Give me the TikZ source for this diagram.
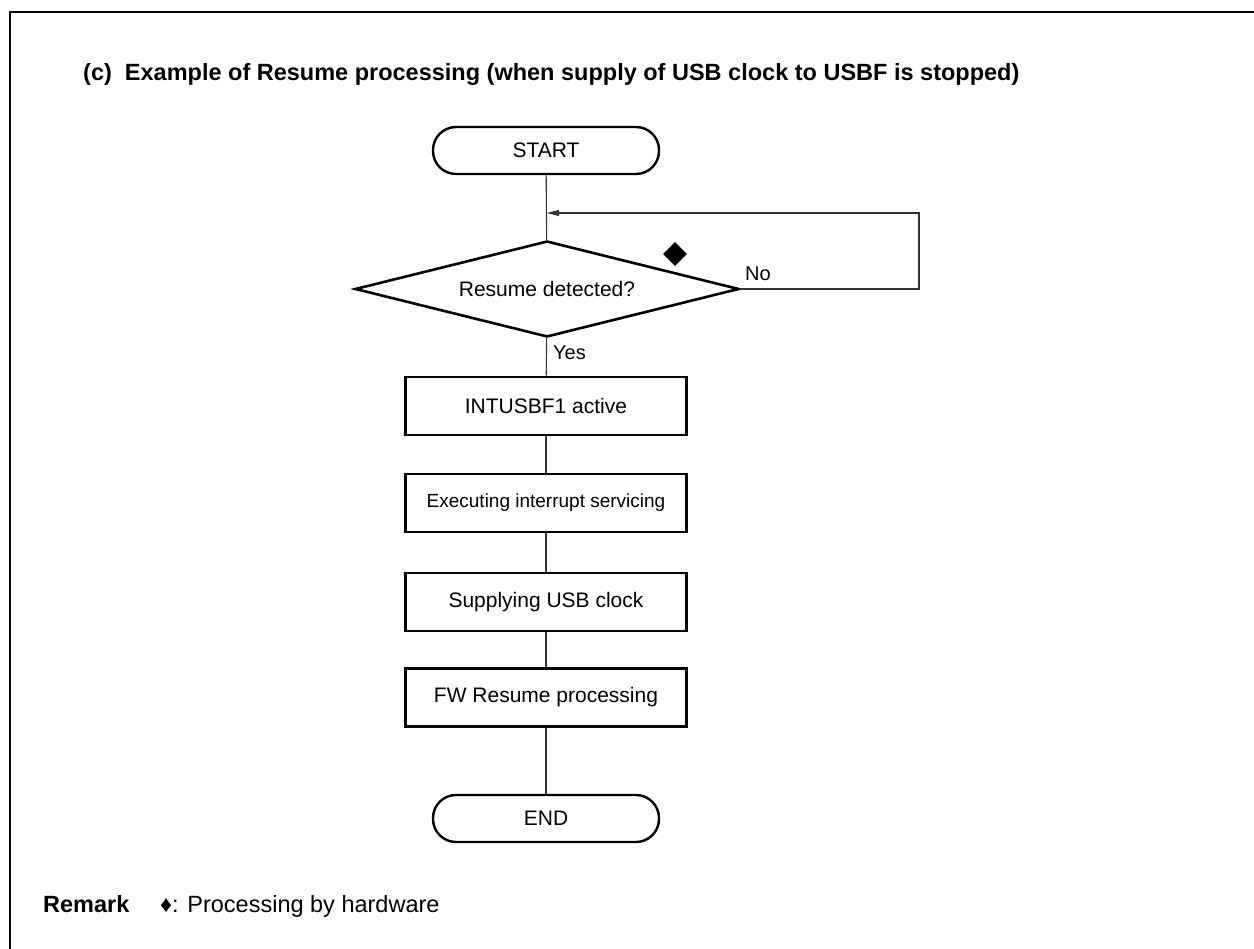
\documentclass[tikz,border=0pt]{standalone}
\usepackage{fontspec}
\setmainfont{Liberation Sans}
\usetikzlibrary{shapes.geometric,arrows.meta}
\tikzset{
  basefont/.style={font=\fontsize{21}{25}\selectfont},
  docfont/.style={font=\fontsize{23.5}{28}\selectfont},
  docbold/.style={font=\fontsize{23.5}{28}\selectfont\bfseries},
  procbox/.style={draw, line width=2.6pt, minimum width=281pt, minimum height=58pt, inner sep=0pt, basefont},
  termbox/.style={draw, line width=2.4pt, rounded corners=23pt, minimum width=226pt, minimum height=47pt, inner sep=0pt, basefont},
  decbox/.style={draw, diamond, aspect=4, line width=2.6pt, minimum width=384pt, minimum height=96pt, inner sep=0pt, basefont},
  conn/.style={line width=1.1pt, draw=black!80},
  lbl/.style={anchor=base west, inner sep=0pt, basefont},
}
\begin{document}
\begin{tikzpicture}[x=1pt,y=-1pt]
\useasboundingbox (0,0) rectangle (1254,949);
% frame
\draw[line width=2.6pt] (10,949) -- (10,12) -- (1254,12);
% title
\node[lbl, docbold] (title) at (83,81) {(c)\ \ Example of Resume processing (when supply of USB clock to USBF is stopped)};
% flowchart
\node[termbox] (start) at (546,150.5) {START};
\node[decbox] (dec) at (547,289) {Resume detected?};
\node[procbox] (b1) at (546,406) {INTUSBF1 active};
\node[procbox, font=\fontsize{19}{23}\selectfont] (b2) at (546,503) {Executing interrupt servicing};
\node[procbox] (b3) at (546,602) {Supplying USB clock};
\node[procbox] (b4) at (546,697.5) {FW Resume processing};
\node[termbox] (end) at (546,818.5) {END};
\coordinate (loopc) at (919,213);
\coordinate (loopin) at (547,213);
\draw[conn] (start) -- (dec);
\draw[conn] (dec) -- (b1);
\draw[conn] (b1) -- (b2);
\draw[conn] (b2) -- (b3);
\draw[conn] (b3) -- (b4);
\draw[conn] (b4) -- (end);
\draw[conn, -{Triangle[length=12pt,width=6pt]}] (dec.east) -| (loopc) -- (loopin);
\node[fill, diamond, minimum width=24pt, minimum height=24pt, inner sep=0pt] (hw) at (675,254) {};
\node[lbl, font=\fontsize{20}{24}\selectfont] (no) at (745,281) {No};
\node[lbl, font=\fontsize{20}{24}\selectfont] (yes) at (553,360) {Yes};
% remark
\node[lbl, docbold] (rem) at (43,912) {Remark};
\node[lbl, docfont] (remtxt) at (160,912) {♦: Processing by hardware};
\end{tikzpicture}
\end{document}
